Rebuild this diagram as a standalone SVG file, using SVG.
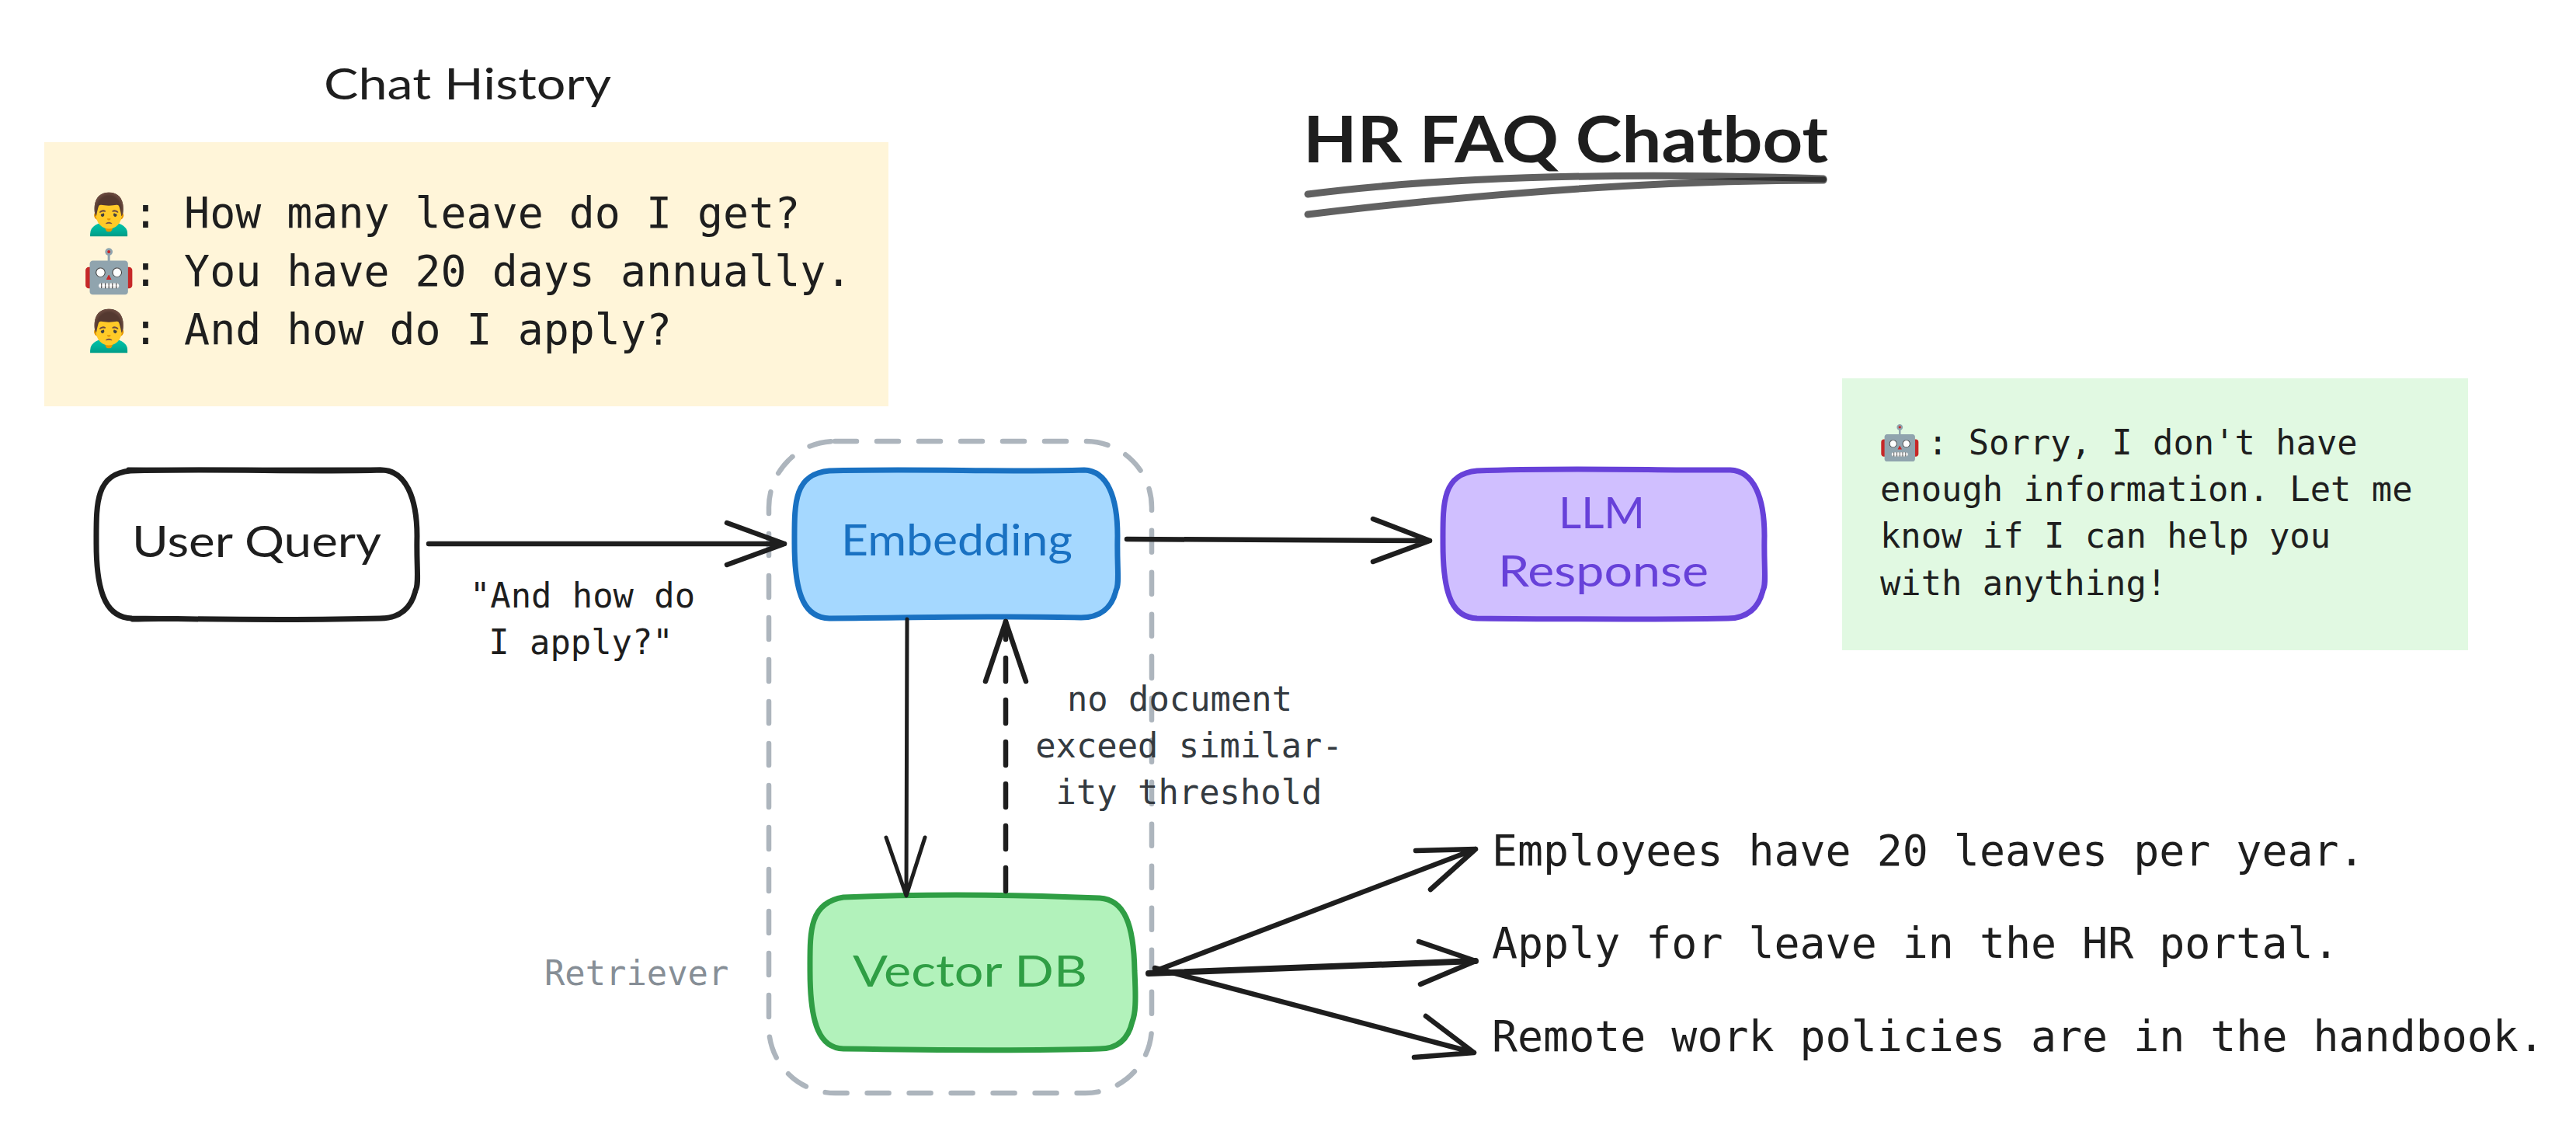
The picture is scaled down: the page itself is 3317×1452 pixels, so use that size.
<svg xmlns="http://www.w3.org/2000/svg" width="3317" height="1452" viewBox="0 0 3317 1452">
<style>
.hand{font-family:"Lato","Noto Sans",sans-serif}
.mono{font-family:"DejaVu Sans Mono","Liberation Mono",monospace;fill:#1e1e1e}
.m55{font-size:54.9px}
.m44{font-size:43.8px}
.emoji{font-family:"Noto Color Emoji","Apple Color Emoji","Noto Sans CJK SC",sans-serif}
.line{fill:none;stroke:#1e1e1e;stroke-width:6.5;stroke-linecap:round;stroke-linejoin:round}
.thin{stroke-width:5}
.box{stroke-width:7;stroke-linejoin:round;stroke-linecap:round}
.edge2{fill:none;stroke-width:5;stroke-linecap:round}
</style>
<rect width="3317" height="1452" fill="#ffffff"/>
<g id="title">
<text class="hand" x="1678" y="209" font-size="82" font-weight="700" fill="#1e1e1e" textLength="676" lengthAdjust="spacingAndGlyphs">HR FAQ Chatbot</text>
<path d="M1684 250C1870 226 2100 222 2348 230" fill="none" stroke="#1e1e1e" stroke-opacity=".7" stroke-width="9" stroke-linecap="round"/>
<path d="M2348 232C2130 232 1900 250 1684 276" fill="none" stroke="#1e1e1e" stroke-opacity=".7" stroke-width="9" stroke-linecap="round"/>
</g>
<g id="chat-history">
<text class="hand" x="417" y="128" font-size="56" fill="#1e1e1e" textLength="370" lengthAdjust="spacingAndGlyphs">Chat History</text>
<rect x="57" y="183" width="1087" height="340" fill="#fff5d9"/>
<text class="mono m55" y="293"><tspan class="emoji" x="106">🙍‍♂️</tspan><tspan x="171">: How many leave do I get?</tspan></text>
<text class="mono m55" y="368"><tspan class="emoji" x="106">🤖</tspan><tspan x="171">: You have 20 days annually.</tspan></text>
<text class="mono m55" y="443"><tspan class="emoji" x="106">🙍‍♂️</tspan><tspan x="171">: And how do I apply?</tspan></text>
</g>
<g id="retriever">
<rect x="990" y="568" width="493" height="839" rx="85" ry="85" fill="none" stroke="#adb5bd" stroke-width="6.5" stroke-dasharray="28 26" stroke-linecap="round"/>
<text class="mono m44" x="701" y="1268" style="fill:#868e96">Retriever</text>
</g>
<g id="user-query">
<path class="box" fill="#ffffff" stroke="#1e1e1e" d="M168 606C280 603 400 608 492 605C522 606 537 640 537 690C536 730 540 752 535 760C530 782 515 796 490 796C380 799 280 797 170 796C140 795 124 770 124 700C124 650 122 610 168 606Z"/>
<path class="edge2" stroke="#1e1e1e" d="M165 604C280 605 400 603 490 604M170 798C280 795 400 801 500 795"/>
<text class="hand" x="170" y="717" font-size="56" fill="#1e1e1e" textLength="321" lengthAdjust="spacingAndGlyphs">User Query</text>
</g>
<g id="embedding">
<path class="box" fill="#a5d8ff" stroke="#1971c2" d="M1068 606C1180 603 1300 608 1396 605C1426 606 1439 640 1439 690C1438 730 1442 752 1437 760C1432 782 1417 795 1392 795C1300 792 1200 795 1068 796C1038 795 1023 770 1023 700C1023 650 1021 610 1068 606Z"/>
<text class="hand" x="1083" y="715" font-size="56" fill="#1971c2" textLength="298" lengthAdjust="spacingAndGlyphs">Embedding</text>
</g>
<g id="llm-response">
<path class="box" fill="#d0bfff" stroke="#6741d9" d="M1902 606C2020 601 2140 606 2228 605C2258 606 2272 640 2272 690C2271 730 2275 752 2270 760C2265 782 2250 796 2225 796C2120 798 2020 797 1902 796C1872 795 1858 770 1858 700C1858 650 1856 610 1902 606Z"/>
<text class="hand" x="2007" y="680" font-size="56" fill="#6741d9" textLength="111" lengthAdjust="spacingAndGlyphs">LLM</text>
<text class="hand" x="1929" y="755" font-size="56" fill="#6741d9" textLength="271" lengthAdjust="spacingAndGlyphs">Response</text>
</g>
<g id="vector-db">
<path class="box" fill="#b2f2bb" stroke="#2f9e44" d="M1086 1155C1200 1150 1320 1152 1416 1156C1448 1158 1460 1190 1461 1250C1463 1290 1462 1305 1458 1315C1453 1337 1440 1350 1416 1350C1320 1353 1220 1352 1086 1350C1056 1349 1043 1320 1043 1250C1043 1200 1041 1162 1086 1155Z"/>
<text class="hand" x="1098" y="1270" font-size="56" fill="#2f9e44" textLength="302" lengthAdjust="spacingAndGlyphs">Vector DB</text>
</g>
<g id="response-note">
<rect x="2372" y="487" width="806" height="350" fill="#e1f9e2"/>
<text class="mono m44" y="585"><tspan class="emoji" x="2419">🤖</tspan><tspan x="2482">: Sorry, I don't have</tspan></text>
<text class="mono m44" x="2421" y="645">enough information. Let me</text>
<text class="mono m44" x="2421" y="705">know if I can help you</text>
<text class="mono m44" x="2421" y="766">with anything!</text>
</g>
<g id="labels">
<text class="mono m44" text-anchor="middle" x="750" y="782">"And how do</text>
<text class="mono m44" text-anchor="middle" x="748" y="842">I apply?"</text>
<text class="mono m44" text-anchor="middle" x="1519" y="915" style="fill:#343a40">no document</text>
<text class="mono m44" text-anchor="middle" x="1531" y="975" style="fill:#343a40">exceed similar-</text>
<text class="mono m44" text-anchor="middle" x="1531" y="1035" style="fill:#343a40">ity threshold</text>
</g>
<g id="chunks">
<text class="mono m55" x="1921" y="1114">Employees have 20 leaves per year.</text>
<text class="mono m55" x="1921" y="1233">Apply for leave in the HR portal.</text>
<text class="mono m55" x="1921" y="1353">Remote work policies are in the handbook.</text>
</g>
<g id="connectors">
<path class="line" d="M552 700L1010 700M936 673L1010 700L936 727"/>
<path class="line" d="M1451 694L1841 696M1768 668L1841 696L1768 723"/>
<path class="line thin" d="M1168 797L1167 1153M1141 1078L1167 1153L1191 1078"/>
<path class="line" stroke-dasharray="30 24" d="M1295 1147L1295 800"/>
<path class="line" d="M1269 877L1295 800L1321 877"/>
<path class="line" d="M1487 1250L1900 1093M1823 1095L1900 1093L1842 1145"/>
<path class="line" style="stroke-width:8" d="M1479 1253L1900 1237"/>
<path class="line" d="M1827 1212L1900 1237L1829 1267"/>
<path class="line" d="M1487 1246L1898 1355M1836 1308L1898 1355L1821 1361"/>
</g>
</svg>
